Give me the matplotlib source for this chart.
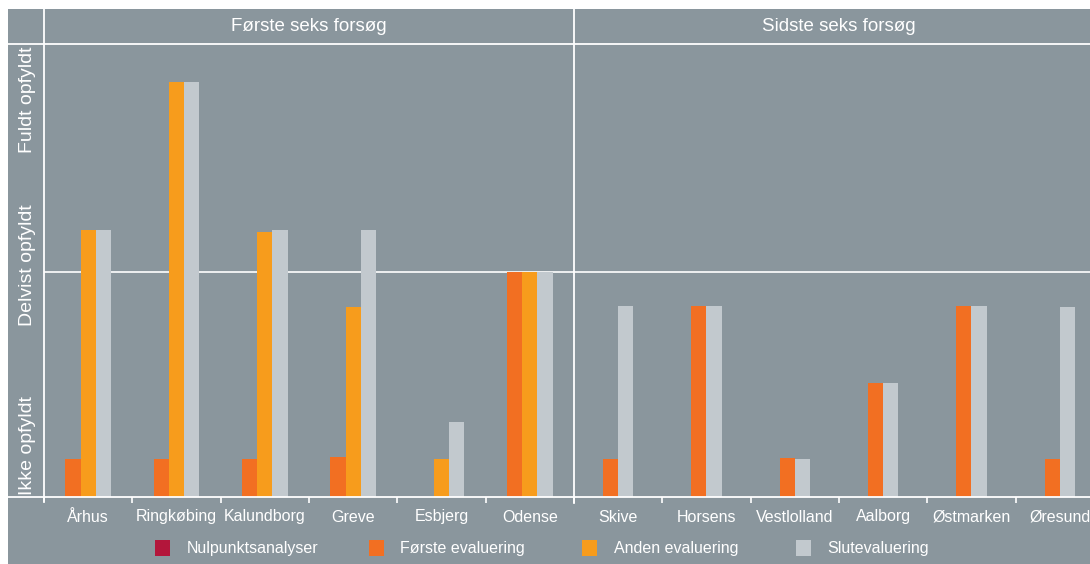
import matplotlib
matplotlib.use("Agg")
import matplotlib.pyplot as plt
import matplotlib.transforms as mtransforms
from matplotlib.patches import Rectangle
from matplotlib.lines import Line2D
import numpy as np

plt.rcParams["font.family"] = ["Liberation Sans", "DejaVu Sans"]

# ---- data -------------------------------------------------------------
cities = ["Århus", "Ringkøbing", "Kalundborg", "Greve", "Esbjerg", "Odense",
          "Skive", "Horsens", "Vestlolland", "Aalborg", "Østmarken", "Øresund"]
panels = ["Første seks forsøg", "Sidste seks forsøg"]
level_labels = ["Ikke opfyldt", "Delvist opfyldt", "Fuldt opfyldt"]
series_names = ["Nulpunktsanalyser", "Første evaluering", "Anden evaluering", "Slutevaluering"]

nulpunkt = [0, 0, 0, 0, 0, 0, 0, 0, 0, 0, 0, 0]
foerste = [0.17, 0.17, 0.17, 0.18, 0.0, 1.0, 0.17, 0.85, 0.175, 0.505, 0.85, 0.17]
anden = [1.185, 1.845, 1.18, 0.845, 0.17, 1.0, 0.0, 0.0, 0.0, 0.0, 0.0, 0.0]
slut = [1.185, 1.845, 1.185, 1.185, 0.335, 1.0, 0.85, 0.85, 0.168, 0.505, 0.85, 0.845]

# ---- style ------------------------------------------------------------
BG = "#8a969d"
C_NUL = "#b3163b"
C_F1 = "#f26f22"
C_F2 = "#f79c1c"
C_SL = "#c2c9ce"
WHITE = "white"
colors = [C_NUL, C_F1, C_F2, C_SL]

W, H = 1090, 564
fig = plt.figure(figsize=(W / 100, H / 100), dpi=100, facecolor="white")

def fx(px):
    return px / W

def fy(py):
    return 1 - py / H

# grey canvas
fig.patches.append(Rectangle((fx(8), 0), 1, fy(9), transform=fig.transFigure,
                             facecolor=BG, edgecolor="none", zorder=-10))

left, right_px, top_px, base_px = 44, 1104, 44, 497
unit_px = 225.0
ax = fig.add_axes([fx(left), fy(base_px), (right_px - left) / W, (base_px - top_px) / H])
ax.set_facecolor("none")
for s in ax.spines.values():
    s.set_visible(False)

n = len(cities)
x = np.arange(n)
bw = 0.173
values = [np.array(nulpunkt), np.array(foerste), np.array(anden), np.array(slut)]

# each panel holds six sites; only series reported in a panel get a bar slot
for p in range(2):
    sl = slice(p * 6, p * 6 + 6)
    active = [k for k in range(4) if np.any(values[k][sl] > 0)]
    m = len(active)
    for j, k in enumerate(active):
        off = (j - (m - 1) / 2) * bw
        ax.bar(x[sl] + off, values[k][sl], bw, color=colors[k], linewidth=0, zorder=2)

ax.set_xlim(-0.5, n - 0.5)
ax.set_ylim(0, (base_px - top_px) / unit_px)

# ticks: labels at category centres, tick marks on boundaries
ax.set_xticks(x)
ax.set_xticklabels(cities, color=WHITE, fontsize=11.5)
ax.tick_params(axis="x", which="major", length=0, pad=9)
ax.set_xticks(np.arange(-0.5, n, 1.0), minor=True)
ax.tick_params(axis="x", which="minor", length=4, width=1.2, color=WHITE, direction="out")
ax.set_yticks([])

# middle reference line
ax.axhline(1.0, color=WHITE, lw=1.2, zorder=1)

# frame lines drawn in figure pixels
lw = 1.3
fig.lines.append(Line2D([fx(8), 1], [fy(base_px), fy(base_px)], transform=fig.transFigure,
                        color=WHITE, lw=lw))
fig.lines.append(Line2D([fx(8), 1], [fy(top_px), fy(top_px)], transform=fig.transFigure,
                        color=WHITE, lw=lw))
fig.lines.append(Line2D([fx(left), fx(left)], [fy(9), fy(base_px + 4)], transform=fig.transFigure,
                        color=WHITE, lw=lw))

# panel divider
ax.plot([5.5, 5.5], [-6 / unit_px, (base_px - 9) / unit_px], color=WHITE, lw=lw,
        clip_on=False, zorder=3)

# panel headers
hy = (base_px - 26.5) / unit_px
ax.text(2.5, hy, panels[0], ha="center", va="center", color=WHITE, fontsize=13.5, clip_on=False)
ax.text(8.5, hy, panels[1], ha="center", va="center", color=WHITE, fontsize=13.5, clip_on=False)

# level labels on the left
tr = mtransforms.blended_transform_factory(fig.transFigure, ax.transData)
for lab, yv in zip(level_labels, [0.23, 1.03, 1.765]):
    ax.text(fx(27), yv, lab, rotation=90, ha="center", va="center", color=WHITE,
            fontsize=14, transform=tr, clip_on=False)

# legend row
for i, (name, c) in enumerate(zip(series_names, colors)):
    x0 = 155 + i * 213.5
    fig.patches.append(Rectangle((fx(x0), fy(556)), fx(15), 16 / H, transform=fig.transFigure,
                                 facecolor=c, edgecolor="none"))
    fig.text(fx(x0 + 32), fy(548.5), name, ha="left", va="center", color=WHITE, fontsize=11.5)

fig.savefig("out.png", dpi=100, facecolor=fig.get_facecolor())
